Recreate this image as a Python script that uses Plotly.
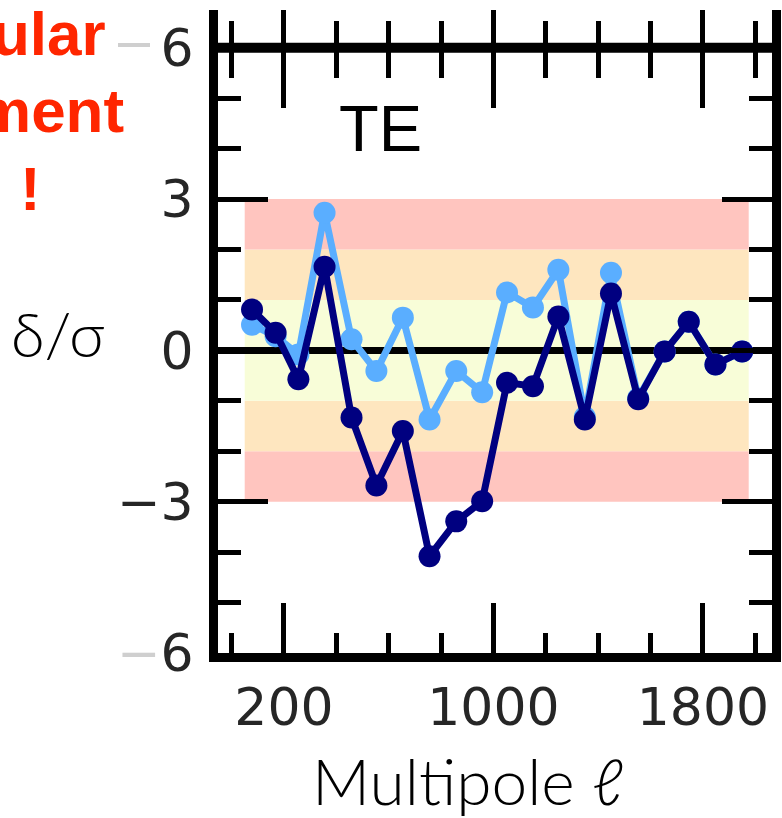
import plotly.graph_objects as go

# ---------------- data ----------------
ell = [78, 168, 255, 355, 458, 553, 654, 756, 858, 957,
       1052, 1151, 1248, 1349, 1449, 1553, 1654, 1746, 1848, 1950]
dark_dev = [0.81, 0.35, -0.57, 1.66, -1.33, -2.68, -1.60, -4.08, -3.39, -2.99,
            -0.64, -0.71, 0.67, -1.37, 1.13, -0.97, -0.02, 0.57, -0.28, -0.02]
light_dev = [0.51, 0.28, -0.08, 2.73, 0.22, -0.41, 0.65, -1.37, -0.41, -0.83,
             1.15, 0.85, 1.60, -1.32, 1.54, -0.95, -0.02, 0.57, -0.28, -0.02]

band_lo = [-3, -2, -1, 1, 2]
band_hi = [-2, -1, 1, 2, 3]
band_colors = ["#FFC5BF", "#FEE6BF", "#F8FDD8", "#FEE6BF", "#FFC5BF"]
band_ell = [50, 1975]

x_major = [200, 1000, 1800]
y_major = [-6, -3, 0, 3, 6]
y_labels = ['<span style="color:#cfcfcf">\u2212</span>6', "\u22123", "0", "3", "6"]

# ---------------- geometry ----------------
W, H = 782, 818
PL, PR, PT, PB = 218, 772, 10, 653
xrange_ = [-52, 2064]
yrange_ = [-6, 6.75]


def px(x):
    return (x - PL) / (PR - PL)


def py(y):
    return (PB - y) / (PB - PT)


pos6 = (6 - yrange_[0]) / (yrange_[1] - yrange_[0])

fig = go.Figure()

fig.add_trace(go.Scatter(
    x=ell, y=light_dev, mode="lines+markers",
    line=dict(color="#5AAEFF", width=7),
    marker=dict(color="#5AAEFF", size=22),
    showlegend=False, hoverinfo="skip"))
fig.add_trace(go.Scatter(
    x=ell, y=dark_dev, mode="lines+markers",
    line=dict(color="#000080", width=7),
    marker=dict(color="#000080", size=22),
    showlegend=False, hoverinfo="skip"))
# register helper axes used for the crossing ticks on the y=6 line
for xa in ("x2", "x3"):
    fig.add_trace(go.Scatter(x=[None], y=[None], xaxis=xa, yaxis="y",
                             showlegend=False, hoverinfo="skip"))

shapes = []
for lo, hi, c in zip(band_lo, band_hi, band_colors):
    shapes.append(dict(type="rect", xref="x", yref="y",
                       x0=band_ell[0], x1=band_ell[1], y0=lo, y1=hi,
                       fillcolor=c, line=dict(width=0), layer="below"))
# horizontal frame line at y = 6
shapes.append(dict(type="line", xref="paper", yref="y",
                   x0=px(209), x1=px(781), y0=6, y1=6,
                   line=dict(color="black", width=10), layer="above"))
# faint dash next to the top label
shapes.append(dict(type="line", xref="paper", yref="paper",
                   x0=px(118), x1=px(150), y0=py(45), y1=py(45),
                   line=dict(color="#cfcfcf", width=4)))

tick_font = dict(family="DejaVu Sans", size=52, color="#262626")
light_font = dict(family="Lato", size=64, color="black", weight=300)
red_font = dict(family="Liberation Sans, Arial", size=62, color="#FF2600", weight="bold")

annotations = [
    dict(text="ular", x=px(108), y=py(33), xanchor="right", yanchor="middle", font=red_font),
    dict(text="ment", x=px(126), y=py(110), xanchor="right", yanchor="middle", font=red_font),
    dict(text="!", x=px(30), y=py(188), xanchor="center", yanchor="middle", font=red_font),
    dict(text="\u03b4/\u03c3", x=px(58), y=py(333), xanchor="center", yanchor="middle",
         font=dict(light_font, size=62)),
    dict(text="TE", x=px(380), y=py(128), xanchor="center", yanchor="middle",
         font=dict(family="Liberation Sans, Arial", size=65, color="black")),
    dict(text="Multipole \u2113", x=px(468), y=py(780), xanchor="center", yanchor="middle", font=light_font),
]
for a in annotations:
    a.update(xref="paper", yref="paper", showarrow=False)

helper = dict(range=xrange_, overlaying="x", anchor="free", position=pos6,
              showgrid=False, zeroline=False, showline=False, showticklabels=False,
              tickmode="array", tickvals=x_major, tickwidth=5, tickcolor="black",
              side="top", fixedrange=True, automargin=False)

fig.update_layout(
    width=W, height=H,
    margin=dict(l=PL, r=W - PR, t=PT, b=H - PB, pad=0, autoexpand=False),
    paper_bgcolor="white", plot_bgcolor="white",
    shapes=shapes, annotations=annotations,
    xaxis=dict(range=xrange_, showgrid=False, zeroline=False, automargin=False,
               showline=True, linewidth=9, linecolor="black", mirror=False,
               ticks="inside", tickmode="array", tickvals=x_major,
               ticklen=50, tickwidth=5, tickcolor="black",
               minor=dict(tick0=0, dtick=200, ticks="inside", ticklen=20,
                          tickwidth=5, tickcolor="black"),
               tickfont=tick_font, ticklabelstandoff=1),
    xaxis2=dict(helper, ticks="outside", ticklen=38,
                minor=dict(tick0=0, dtick=200, ticks="outside", ticklen=27,
                           tickwidth=5, tickcolor="black")),
    xaxis3=dict(helper, ticks="inside", ticklen=59,
                minor=dict(tick0=0, dtick=200, ticks="inside", ticklen=29,
                           tickwidth=5, tickcolor="black")),
    yaxis=dict(range=yrange_, showgrid=False, automargin=False,
               zeroline=True, zerolinewidth=7, zerolinecolor="black",
               showline=True, linewidth=9, linecolor="black", mirror="ticks",
               ticks="inside", tickmode="array", tickvals=y_major, ticktext=y_labels,
               ticklen=50, tickwidth=5, tickcolor="black",
               minor=dict(dtick=1, tick0=0, ticks="inside", ticklen=23,
                          tickwidth=5, tickcolor="black"),
               tickfont=tick_font, ticklabelstandoff=5),
)

fig.write_html("out.html")
